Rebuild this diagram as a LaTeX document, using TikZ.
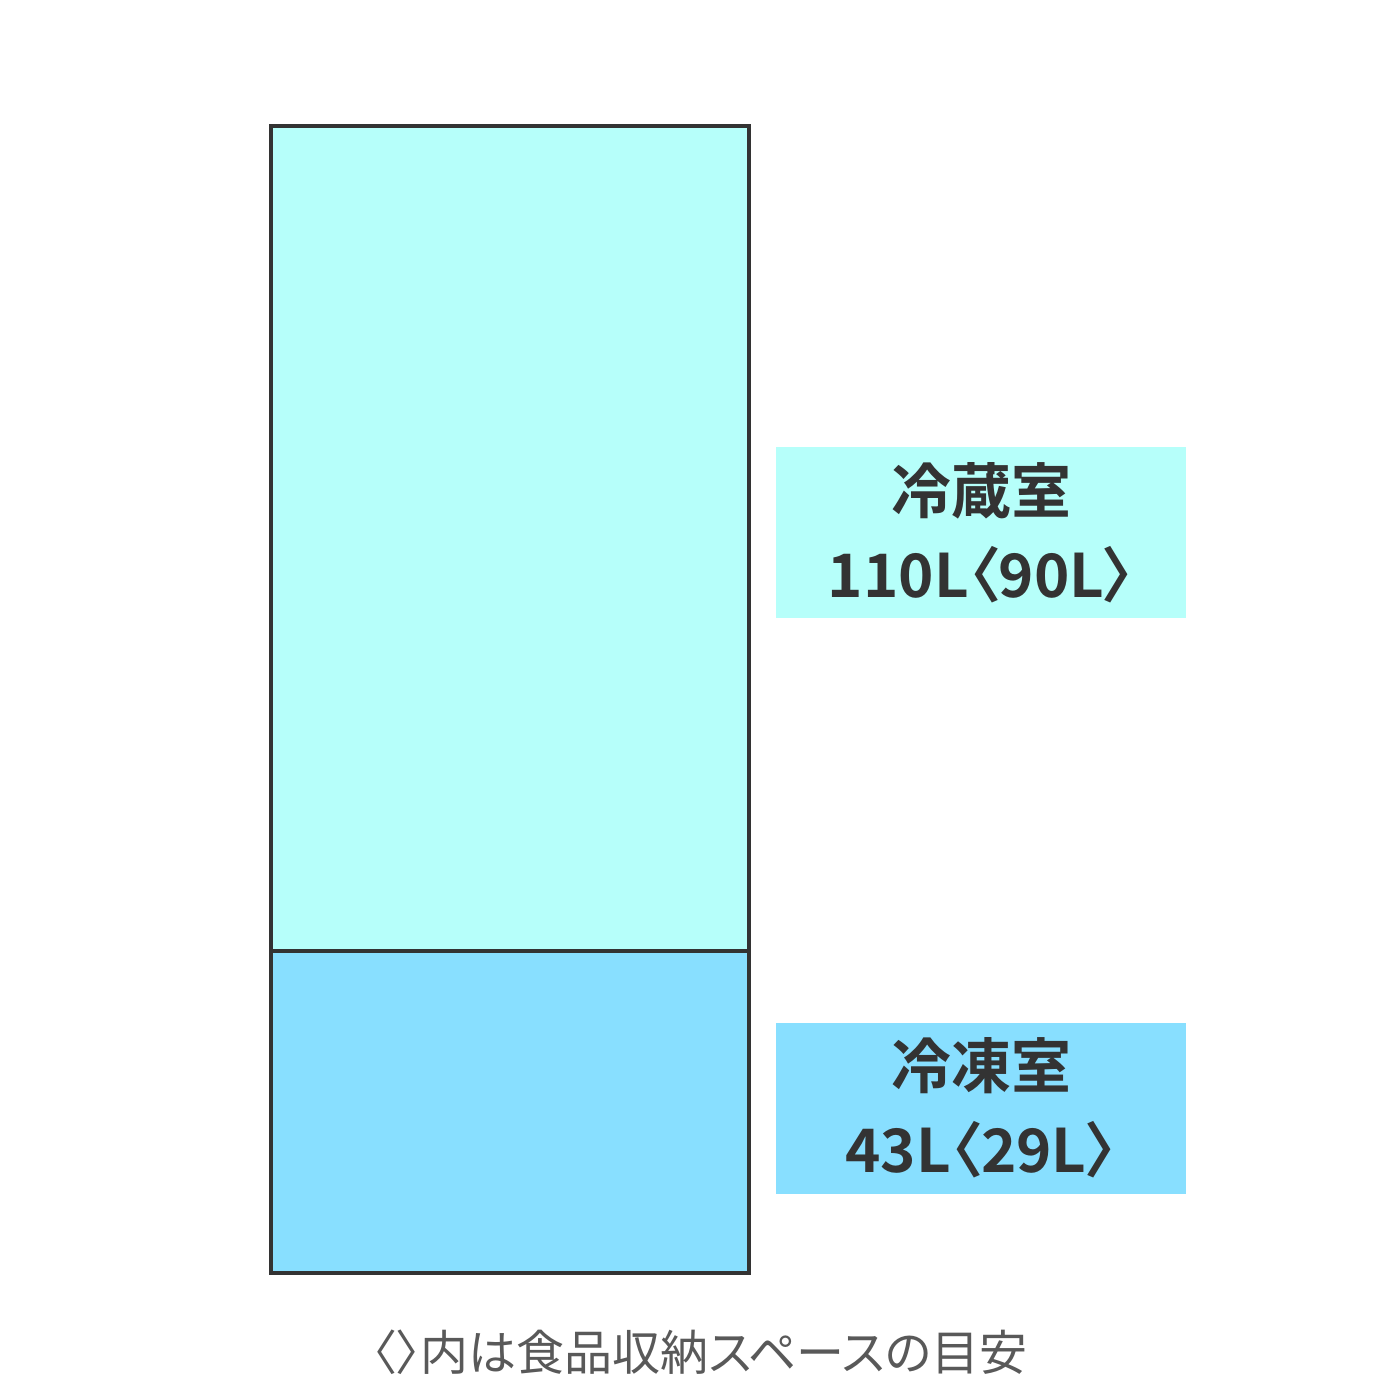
\documentclass[tikz,border=0pt]{standalone}
\usepackage{fontspec}
\newfontfamily\cjk{Noto Sans CJK JP}[BoldFont={Noto Sans CJK JP Bold}, RawFeature={+palt}]
\definecolor{fridgeC}{HTML}{B6FFFA}
\definecolor{freezeC}{HTML}{88DFFF}
\definecolor{edgeC}{HTML}{333333}
\definecolor{noteC}{HTML}{595959}
\tikzset{
  compart/.style={draw=edgeC, line width=2pt},
  labelbox/.style={minimum width=205pt, minimum height=85.5pt, inner sep=0pt,
    align=center, text=edgeC, font=\cjk\bfseries\fontsize{30}{42}\selectfont},
}
\begin{document}
\begin{tikzpicture}[x=0.5pt,y=-0.5pt]
\useasboundingbox (0,0) rectangle (1400,1400);
\fill[white] (0,0) rectangle (1400,1400);
\filldraw[compart, fill=fridgeC] (270.5,126) rectangle (749,951);
\filldraw[compart, fill=freezeC] (270.5,951) rectangle (749,1273);
\node[labelbox, fill=fridgeC] (fr) at (981,532.5) {冷蔵室\\110L〈90L〉};
\node[labelbox, fill=freezeC] (fz) at (981,1108) {冷凍室\\43L〈29L〉};
\node[text=noteC, font=\cjk\fontsize{24}{28}\selectfont, inner sep=0pt] (note) at (700,1352) {〈〉内は食品収納スペースの目安};
\end{tikzpicture}
\end{document}
